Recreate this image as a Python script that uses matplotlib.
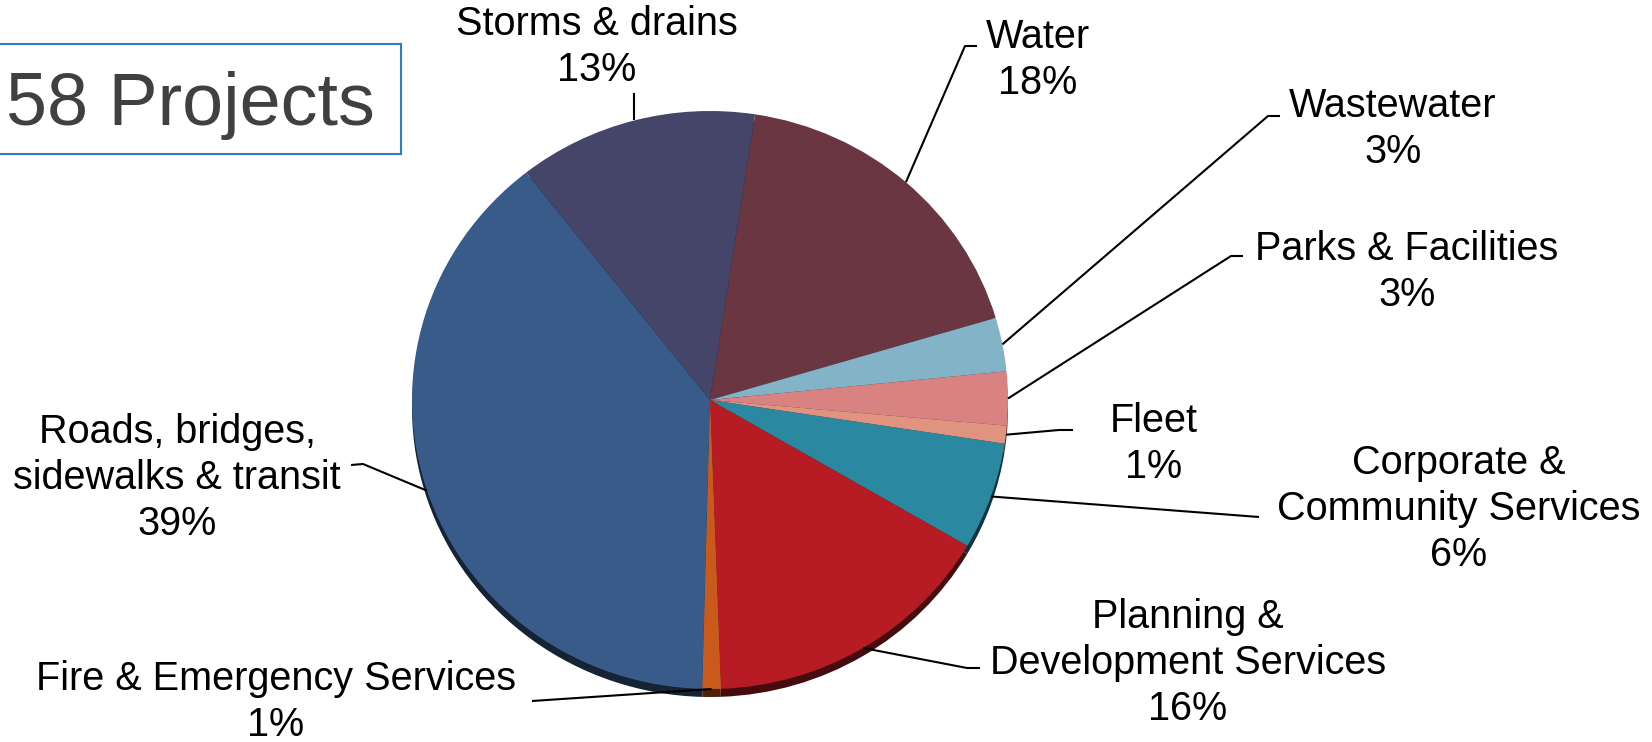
import matplotlib
matplotlib.use("Agg")
import matplotlib.pyplot as plt
import numpy as np
from matplotlib.colors import to_rgb
from matplotlib.patches import Rectangle

plt.rcParams['font.family'] = ['Liberation Sans', 'DejaVu Sans']

# share of capital projects by service area (clockwise from the top)
categories = ["Water", "Wastewater", "Parks & Facilities", "Fleet",
              "Corporate &\nCommunity Services", "Planning &\nDevelopment Services",
              "Fire & Emergency Services", "Roads, bridges,\nsidewalks & transit",
              "Storms & drains"]
shares = [18, 3, 3, 1, 6, 16, 1, 39, 13]
colors = ["#6A3642", "#82B3C7", "#D98282", "#E0937F", "#2A88A0",
          "#B71C24", "#C95A1B", "#385B8A", "#45456A"]
project_count = 58

W, H = 1652, 742
fig = plt.figure(figsize=(W / 100, H / 100), dpi=100)

# pie face is a slightly squashed ellipse (tilted look)
cx, cy, rx, ry = 710, 400, 298, 289
pad = 1.1
ax_pie = fig.add_axes([(cx - pad * rx) / W, (H - cy - pad * ry) / H,
                       2 * pad * rx / W, 2 * pad * ry / H])
start = 90 - 8.7

# dark copy shifted down gives the thin side of the disc
rim = [tuple(c * 0.38 for c in to_rgb(col)) for col in colors]
ax_pie.pie(shares, colors=rim, startangle=start, counterclock=False,
           center=(0, -8 / ry), wedgeprops=dict(linewidth=0))
wedges, _ = ax_pie.pie(shares, colors=colors, startangle=start, counterclock=False,
                       wedgeprops=dict(linewidth=0))
ax_pie.set_aspect('auto')
ax_pie.set_xlim(-pad, pad)
ax_pie.set_ylim(-pad, pad)
ax_pie.axis('off')

# overlay in pixel coordinates for labels and leader lines
ax = fig.add_axes([0, 0, 1, 1])
ax.set_xlim(0, W)
ax.set_ylim(H, 0)
ax.axis('off')

label_xy = [(1038, 60), (1393, 129), (1407, 272), (1154, 444), (1459, 509),
            (1188, 663), (276, 702), (177, 478), (597, 47)]
leaders = [[(965, 46), (977, 46)],
           [(1268, 116), (1280, 116)],
           [(1231, 256), (1243, 256)],
           [(1059, 430), (1073, 430)],
           [(1246, 516), (1259, 517)],
           [(967, 668), (980, 668)],
           [(532, 701)],
           [(363, 464), (351, 465)],
           [(None, 93)]]

for w, name, pct, (tx, ty), path in zip(wedges, categories, shares, label_xy, leaders):
    # leader starts on the rim at the middle of the wedge
    mid = np.deg2rad((w.theta1 + w.theta2) / 2)
    px, py = ax_pie.transData.transform((np.cos(mid), np.sin(mid)))
    x0, y0 = px, H - py
    xs, ys = [x0], [y0]
    for x, y in path:
        xs.append(x0 if x is None else x)
        ys.append(y)
    ax.plot(xs, ys, color='black', lw=1.5, solid_capstyle='butt')
    ax.text(tx, ty, f"{name}\n{pct}%", ha='center', va='center',
            fontsize=28.5, linespacing=1.27, color='black')

# project count box
ax.add_patch(Rectangle((-5, 44), 406, 110, fill=False, edgecolor='#2E7CC6', lw=1.5))
ax.text(6, 125, f"{project_count} Projects", ha='left', va='baseline',
        fontsize=53, color='#404040')

fig.savefig("out.png", dpi=100, facecolor='white')
